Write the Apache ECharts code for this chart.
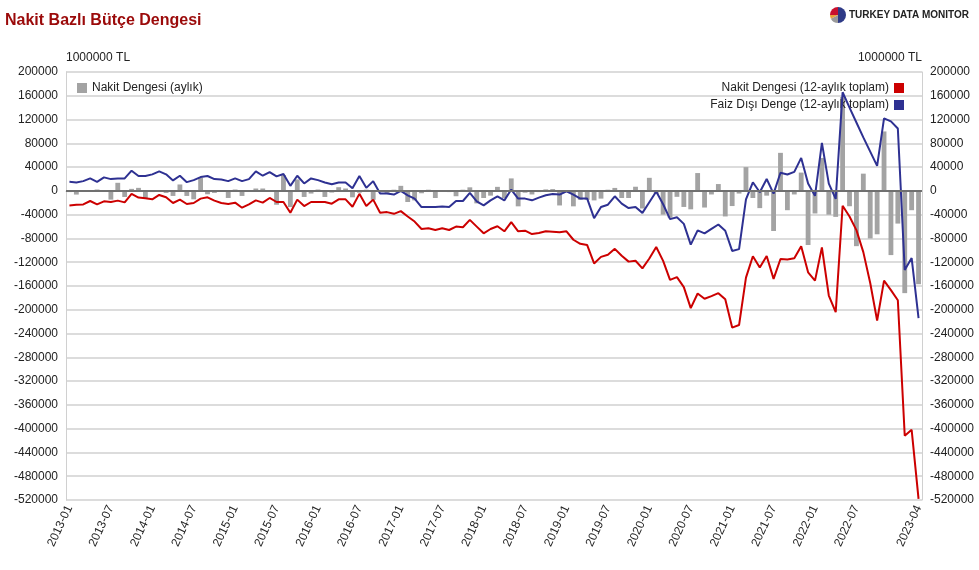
<!DOCTYPE html>
<html>
<head>
<meta charset="utf-8">
<title>Nakit Bazlı Bütçe Dengesi</title>
<script src="https://cdn.jsdelivr.net/npm/echarts@6/dist/echarts.min.js"></script>
<style>
  html, body { margin: 0; padding: 0; background: #fff; }
  #chart { width: 979px; height: 570px; }
</style>
</head>
<body>
<div id="chart"></div>
<script>
// aylar: 2013-01 .. 2023-04
var months = [];
for (var y = 2013; y <= 2023; y++) {
  for (var m = 1; m <= 12; m++) {
    if (y === 2023 && m > 4) break;
    months.push(y + "-" + (m < 10 ? "0" + m : m));
  }
}

// Nakit Dengesi (aylık), milyon TL
var monthlyBalance = [
  -2000, -6200, -1000, 1500, 2300, -1500, -14700, 13600, -10200, 3400, 5100, -11900,
  -2000, 1000, -3400, -8500, 10800, -8500, -14200, 22100, -5700, -3400, -1000, -11900,
  2300, -8500, -1000, 4000, 4000, -1000, -23300, 26600, -27200, 19300, -10200, -4500,
  2300, -10200, -2800, 6200, 4000, -10800, -3000, 2000, -15000, -2000, -4000, 2000,
  8500, -18700, -16000, -4000, 2000, -12000, -1000, -2000, -9000, 2000, 6000, -21000,
  -12000, -8000, 6800, -12000, 21000, -26000, -3000, -6000, -2000, 2500, 3000, -24500,
  1500, -26000, -15000, -15000, -16000, -13000, 2000, 5000, -12000, -12000, 7000, -29600,
  22000, -5000, -40000, -45000, -10000, -27000, -31000, 30000, -28000, -6000, 11500, -43000,
  -25500, -4500, 40000, -12000, -29000, -8000, -67500, 64000, -32500, -6000, 30800, -91000,
  -38000, 55500, -40000, -43700, 158000, -25800, -93000, 29000, -80000, -73000, 100000, -108000,
  -55000, -172000, -32500, -157000
];

// Nakit Dengesi (12-aylık toplam)
var cashBalance12m = [
  -24400, -23200, -22700, -17000, -22700, -17600, -18700, -16400, -19300, -5100, -11300, -12500,
  -14200, -6800, -10800, -20400, -14700, -22100, -20400, -13000, -10800, -16400, -20400, -22100,
  -19800, -28300, -22700, -15900, -19800, -11900, -18700, -18700, -36900, -14700, -25500, -18700,
  -18700, -18700, -21500, -14200, -14200, -26600, -5000, -25500, -14700, -36900, -35700, -38600,
  -34000, -43100, -51600, -64100, -62900, -65800, -62900, -65800, -60100, -61200, -48800, -60100,
  -71400, -64100, -59500, -68000, -52700, -68000, -66900, -72600, -70900, -68000, -68600, -69700,
  -68000, -82200, -89000, -91200, -122000, -111000, -107500, -97500, -109200, -119000, -117600, -130400,
  -113800, -94300, -117800, -149700, -145000, -161800, -197200, -172600, -181500, -177000, -172000, -182400,
  -230000, -225700, -146000, -110000, -129000, -109500, -148000, -114500, -115500, -113500, -93000, -137000,
  -151000, -95000, -176000, -204000, -25000, -43000, -66000, -103000, -155000, -218000, -151000, -167000,
  -184000, -412000, -402000, -518000
];

// Faiz Dışı Denge (12-aylık toplam)
var primaryBalance12m = [
  15300, 14200, 16400, 21000, 15300, 22700, 19800, 21000, 21000, 34000, 25000, 25000,
  27800, 32900, 27800, 17600, 25500, 14700, 18100, 23200, 25000, 19800, 19300, 16400,
  21000, 16400, 19800, 32900, 25500, 31700, 24400, 28300, 8500, 25500, 12500, 21000,
  18100, 14200, 11300, 14200, 14200, 4500, 25000, 5100, 16400, -4500, -4500, -6200,
  0, -7400, -13000, -27200, -27200, -27200, -26100, -27200, -17000, -17000, -3400, -17600,
  -24400, -15900, -9100, -15900, 2300, -13000, -13000, -15900, -11300, -7400, -5100, -6200,
  -600, -6200, -13000, -13000, -45900, -27200, -23200, -9100, -21500, -28900, -27200, -37000,
  -19000, -1000, -22500, -47500, -44500, -55500, -90500, -66500, -71500, -64000, -56500, -67000,
  -101000, -98000, -14200, 14500, -2200, 20000, -4500, 30500, 27500, 32000, 55500, 12300,
  -8400, 80800, 12300, -13500, 166000, 140000, 115000, 90000, 66000, 42000, 122000, 117000,
  105000, -133000, -113000, -214000
];

var chart = echarts.init(document.getElementById("chart"));

var font = "Liberation Sans, Arial, sans-serif";
var axisLabelStyle = {
  color: "#222", fontSize: 12, fontFamily: font,
  formatter: function (v) { return String(v); }
};

chart.setOption({
  animation: false,
  backgroundColor: "#fff",
  textStyle: { fontFamily: font },
  title: {
    text: "Nakit Bazlı Bütçe Dengesi",
    left: 0,
    top: 8,
    textStyle: { color: "#9b0a0a", fontSize: 16, fontWeight: "bold", fontFamily: font }
  },
  graphic: [
    // logo
    { type: "sector", shape: { cx: 838, cy: 15, r: 8, startAngle: Math.PI, endAngle: Math.PI * 1.5 }, style: { fill: "#c8102e" } },
    { type: "sector", shape: { cx: 838, cy: 15, r: 8, startAngle: -Math.PI / 2, endAngle: Math.PI / 2 }, style: { fill: "#2e3a87" } },
    { type: "sector", shape: { cx: 838, cy: 15, r: 8, startAngle: Math.PI / 2, endAngle: Math.PI * 0.85 }, style: { fill: "#9a9a9a" } },
    { type: "sector", shape: { cx: 838, cy: 15, r: 8, startAngle: Math.PI * 0.85, endAngle: Math.PI }, style: { fill: "#e8a33c" } },
    {
      type: "text", left: 849, top: 10,
      style: { text: "TURKEY DATA MONITOR", fill: "#222", font: "bold 10px Liberation Sans, Arial, sans-serif" }
    }
  ],
  legend: [
    {
      left: 72, top: 77,
      icon: "rect", itemWidth: 10, itemHeight: 10, itemGap: 5,
      textStyle: { color: "#222", fontSize: 12 },
      data: ["Nakit Dengesi (aylık)"]
    },
    {
      right: 70, top: 77, orient: "vertical", align: "right",
      icon: "rect", itemWidth: 10, itemHeight: 10, itemGap: 5,
      textStyle: { color: "#222", fontSize: 12 },
      data: ["Nakit Dengesi (12-aylık toplam)", "Faiz Dışı Denge (12-aylık toplam)"]
    }
  ],
  grid: { left: 66, right: 57, top: 72, bottom: 70 },
  xAxis: {
    type: "category",
    data: months,
    boundaryGap: true,
    axisLine: { show: true, lineStyle: { color: "#d0d0d0", width: 1 } },
    axisTick: { show: false },
    axisLabel: {
      color: "#222", fontSize: 12, fontFamily: font,
      rotate: 65,
      margin: 6,
      interval: function (idx) { return (idx % 6 === 0 && idx <= 114) || idx === months.length - 1; }
    }
  },
  yAxis: [
    {
      type: "value",
      min: -520000, max: 200000, interval: 40000,
      name: "1000000 TL",
      nameLocation: "end",
      nameGap: 8,
      nameTextStyle: { color: "#222", fontSize: 12, align: "left" },
      axisLine: { show: true, lineStyle: { color: "#d0d0d0", width: 1 } },
      axisTick: { show: false },
      axisLabel: Object.assign({}, axisLabelStyle, { margin: 8 }),
      splitLine: { lineStyle: { color: "#dcdcdc", width: 2 } }
    },
    {
      type: "value",
      position: "right",
      min: -520000, max: 200000, interval: 40000,
      name: "1000000 TL",
      nameLocation: "end",
      nameGap: 8,
      nameTextStyle: { color: "#222", fontSize: 12, align: "right" },
      axisLine: { show: true, lineStyle: { color: "#d0d0d0", width: 1 } },
      axisTick: { show: false },
      axisLabel: Object.assign({}, axisLabelStyle, { margin: 8 }),
      splitLine: { show: false }
    }
  ],
  series: [
    {
      name: "Nakit Dengesi (aylık)",
      type: "bar",
      data: monthlyBalance,
      barCategoryGap: "30%",
      itemStyle: { color: "#a3a3a3" },
      z: 1,
      markLine: {
        silent: true,
        symbol: "none",
        label: { show: false },
        lineStyle: { color: "#707070", width: 2, type: "solid" },
        data: [{ yAxis: 0 }]
      }
    },
    {
      name: "Nakit Dengesi (12-aylık toplam)",
      type: "line",
      data: cashBalance12m,
      showSymbol: false,
      symbol: "none",
      itemStyle: { color: "#cc0000" },
      lineStyle: { color: "#cc0000", width: 2 },
      z: 3
    },
    {
      name: "Faiz Dışı Denge (12-aylık toplam)",
      type: "line",
      data: primaryBalance12m,
      showSymbol: false,
      symbol: "none",
      itemStyle: { color: "#2e3192" },
      lineStyle: { color: "#2e3192", width: 2 },
      z: 4
    }
  ]
});
</script>
</body>
</html>
